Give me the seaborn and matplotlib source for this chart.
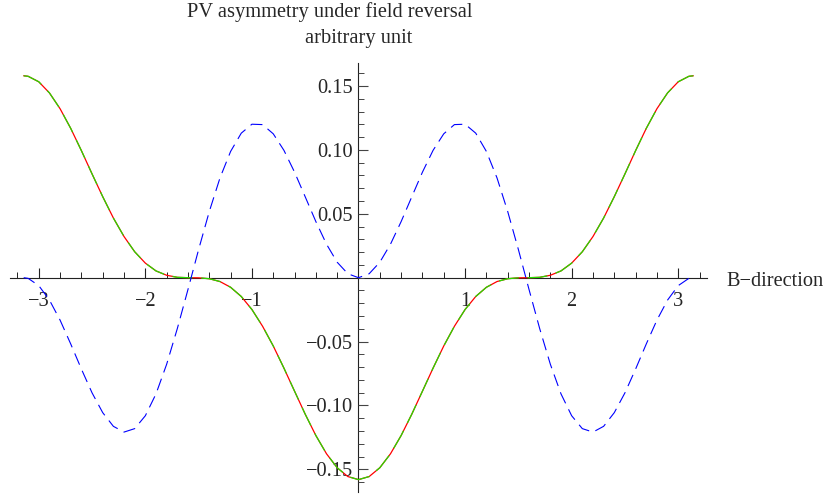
"""
PV asymmetry under field reversal, redrawn with seaborn in a Mathematica-like axes style.
"""

import matplotlib.pyplot as plt
import matplotlib.ticker as mticker
import pandas as pd
import seaborn as sns

# B-direction angle samples (rad)
b_angle = [
    -3.1416, -3.1, -3.0, -2.9, -2.8, -2.7, -2.6, -2.5, -2.4, -2.3, -2.2, -2.1,
    -2.0, -1.9, -1.8, -1.7, -1.6, -1.5, -1.4, -1.3, -1.2, -1.1, -1.0, -0.9,
    -0.8, -0.7, -0.6, -0.5, -0.4, -0.3, -0.2, -0.1, 0.0, 0.1, 0.2, 0.3, 0.4,
    0.5, 0.6, 0.7, 0.8, 0.9, 1.0, 1.1, 1.2, 1.3, 1.4, 1.5, 1.6, 1.7, 1.8, 1.9,
    2.0, 2.1, 2.2, 2.3, 2.4, 2.5, 2.6, 2.7, 2.8, 2.9, 3.0, 3.1, 3.1416,
]

# solid curve (red and green coincide)
asym_red = [
    0.1580, 0.1576, 0.1533, 0.1446, 0.1322, 0.1168, 0.0994, 0.0812, 0.0634,
    0.0467, 0.0322, 0.0203, 0.0114, 0.0053, 0.0019, 0.0003, 0.0000, -0.0001,
    -0.0008, -0.0030, -0.0075, -0.0147, -0.0249, -0.0380, -0.0534, -0.0707,
    -0.0888, -0.1068, -0.1235, -0.1378, -0.1487, -0.1556, -0.1580, -0.1556,
    -0.1487, -0.1378, -0.1235, -0.1068, -0.0888, -0.0707, -0.0534, -0.0380,
    -0.0249, -0.0147, -0.0075, -0.0030, -0.0008, -0.0001, 0.0000, 0.0003,
    0.0019, 0.0053, 0.0114, 0.0203, 0.0322, 0.0467, 0.0634, 0.0812, 0.0994,
    0.1168, 0.1322, 0.1446, 0.1533, 0.1576, 0.1580,
]
asym_green = list(asym_red)

# dashed blue curve
asym_blue = [
    0.0000, -0.0005, -0.0062, -0.0175, -0.0332, -0.0519, -0.0715, -0.0901,
    -0.1056, -0.1163, -0.1208, -0.1181, -0.1080, -0.0909, -0.0677, -0.0398,
    -0.0092, 0.0221, 0.0518, 0.0780, 0.0988, 0.1131, 0.1201, 0.1198, 0.1126,
    0.0997, 0.0826, 0.0633, 0.0439, 0.0262, 0.0121, 0.0031, 0.0000, 0.0031,
    0.0121, 0.0262, 0.0439, 0.0633, 0.0826, 0.0997, 0.1126, 0.1198, 0.1201,
    0.1131, 0.0988, 0.0780, 0.0518, 0.0221, -0.0092, -0.0398, -0.0677, -0.0909,
    -0.1080, -0.1181, -0.1208, -0.1163, -0.1056, -0.0901, -0.0715, -0.0519,
    -0.0332, -0.0175, -0.0062, -0.0005, 0.0000,
]

x_ticks = [-3, -2, -1, 1, 2, 3]
y_ticks = [-0.15, -0.10, -0.05, 0.05, 0.10, 0.15]

FS = 14.7

sns.set_theme(style="white")
plt.rcParams["font.family"] = ["Liberation Serif", "DejaVu Serif"]
plt.rcParams["lines.solid_joinstyle"] = "round"
plt.rcParams["lines.dash_joinstyle"] = "round"


def minus_fmt(fmt):
    return mticker.FuncFormatter(lambda v, _: (fmt % v).replace("-", "\u2212"))


df = pd.DataFrame({"b": b_angle, "red": asym_red, "green": asym_green, "blue": asym_blue})

fig = plt.figure(figsize=(8.25, 4.95), dpi=100)
ax = fig.add_axes([10 / 825, 2.6 / 495, 697 / 825, 429.4 / 495])

sns.lineplot(data=df, x="b", y="red", color="#ff0000", lw=0.9, sort=False, estimator=None, ax=ax)
sns.lineplot(data=df, x="b", y="green", color="#22dd00", lw=0.9, sort=False, estimator=None,
             ax=ax, linestyle=(0, (16, 7)))
sns.lineplot(data=df, x="b", y="blue", color="#0000ff", lw=0.8, sort=False, estimator=None,
             ax=ax, linestyle=(0, (11, 6)))

ax.set_xlim(-3.27, 3.27)
ax.set_ylim(-0.168, 0.168)
ax.set_xlabel("")
ax.set_ylabel("")

for side in ("top", "right"):
    ax.spines[side].set_visible(False)
for side in ("left", "bottom"):
    ax.spines[side].set_position(("data", 0))
    ax.spines[side].set_color("#222222")
    ax.spines[side].set_linewidth(0.8)
    ax.spines[side].set_zorder(0.5)

ax.xaxis.set_major_locator(mticker.FixedLocator(x_ticks))
ax.xaxis.set_minor_locator(mticker.MultipleLocator(0.2))
ax.yaxis.set_major_locator(mticker.FixedLocator(y_ticks))
ax.yaxis.set_minor_locator(mticker.MultipleLocator(0.01))
ax.yaxis.set_major_formatter(minus_fmt("%.2f"))
ax.xaxis.set_major_formatter(minus_fmt("%d"))

ax.tick_params(axis="x", which="major", direction="in", length=7, width=0.8, pad=10,
               labelsize=FS, color="#222222", bottom=True)
ax.tick_params(axis="x", which="minor", direction="in", length=4, width=0.7, color="#222222", bottom=True)
ax.tick_params(axis="y", which="major", direction="in", length=7, width=0.8, pad=4,
               labelsize=FS, color="#444444", left=True)
ax.tick_params(axis="y", which="minor", direction="in", length=4, width=0.7, color="#444444", left=True)

fig.text(330 / 825, 1 - 17.5 / 495, "PV asymmetry under field reversal", ha="center",
         va="baseline", fontsize=FS)
fig.text(358.5 / 825, 1 - 43.3 / 495, "arbitrary unit", ha="center", va="baseline", fontsize=FS)
fig.text(726 / 825, 1 - 286 / 495, "B\u2212direction", ha="left", va="baseline", fontsize=FS)

fig.savefig("out.png", dpi=100)
